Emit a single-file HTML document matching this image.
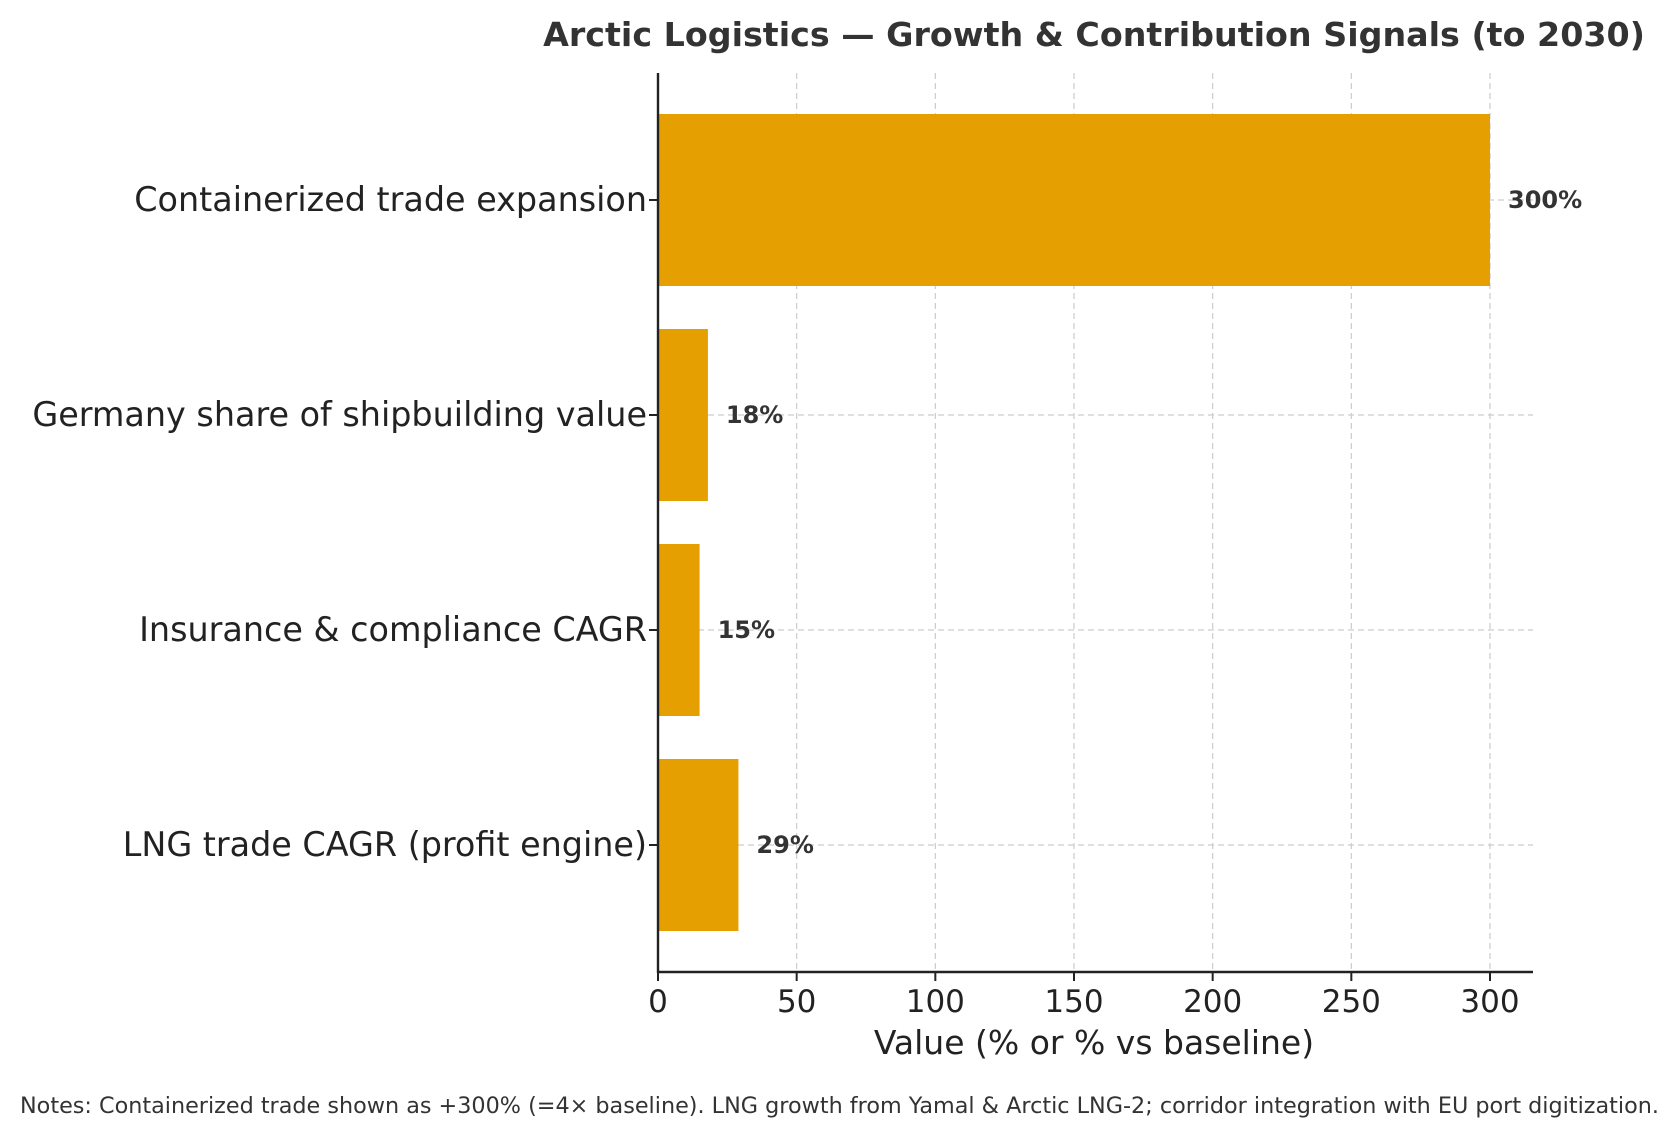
<!DOCTYPE html>
<html><head><meta charset="utf-8"><style>
body{margin:0;background:#fff;}
svg text{font-family:"DejaVu Sans","Liberation Sans",sans-serif;}
</style></head><body>
<svg id="chart" width="1678" height="1135" xmlns="http://www.w3.org/2000/svg">
<rect width="1678" height="1135" fill="#fff"/>
<text x="1094" y="46" text-anchor="middle" font-size="33.3" font-weight="bold" fill="#333">Arctic Logistics — Growth &amp; Contribution Signals (to 2030)</text>
<g id="grid"></g><g id="bars"></g><g id="axes"></g>
<text x="1094" y="1054" text-anchor="middle" font-size="33" fill="#222">Value (% or % vs baseline)</text>
<text x="20" y="1113" font-size="22.3" fill="#333">Notes: Containerized trade shown as +300% (=4× baseline). LNG growth from Yamal &amp; Arctic LNG-2; corridor integration with EU port digitization.</text>
</svg>
<script>
const categories=["Containerized trade expansion","Germany share of shipbuilding value","Insurance & compliance CAGR","LNG trade CAGR (profit engine)"];
const values=[300,18,15,29];
const valueLabels=["300%","18%","15%","29%"];
const xTicks=[0,50,100,150,200,250,300];
const NS="http://www.w3.org/2000/svg";
const L=658,R=1533,T=73,B=972;
const x=v=>L+v*(832/300);
const band=215, y0=T+19.5;
const yc=i=>y0+band*i+band/2;
function mk(tag,attrs,parent){const e=document.createElementNS(NS,tag);for(const k in attrs)e.setAttribute(k,attrs[k]);document.getElementById(parent).appendChild(e);return e;}
xTicks.forEach((t,i)=>{
  const g=mk('line',{x1:x(t),x2:x(t),y1:T,y2:B,stroke:'#ccc','stroke-dasharray':'6,4','stroke-width':1.2},'grid');
  
  
  const tk=mk('line',{x1:x(t),x2:x(t),y1:B,y2:B+9,stroke:'#222','stroke-width':2},'axes');
  
  
  const tl=mk('text',{x:x(t),y:1012,'text-anchor':'middle','font-size':31,fill:'#222'},'axes');
  tl.textContent=t;
  
  
});
categories.forEach((c,i)=>{
  const g=mk('line',{x1:L,x2:R,y1:yc(i),y2:yc(i),stroke:'#ccc','stroke-dasharray':'6,4','stroke-width':1.2},'grid');
  
  
  const h=band*0.8;
  const b=mk('rect',{x:L,y:yc(i)-h/2,width:x(values[i])-L,height:h,fill:'#E69F00'},'bars');
  
  
  const v=mk('text',{x:x(values[i])+18,y:yc(i)+8,'font-size':24,'font-weight':'bold',fill:'#333'},'bars');
  v.textContent=valueLabels[i];
  
  
  const tk=mk('line',{x1:L-9,x2:L,y1:yc(i),y2:yc(i),stroke:'#222','stroke-width':2},'axes');
  
  
  const tl=mk('text',{x:647,y:yc(i)+11,'text-anchor':'end','font-size':33.4,fill:'#222'},'axes');
  tl.textContent=c;
  
  
});
const ax=mk('line',{x1:L,x2:L,y1:T,y2:B+1,stroke:'#222','stroke-width':2.4},'axes');


const bx=mk('line',{x1:L-1,x2:R,y1:B,y2:B,stroke:'#222','stroke-width':2.4},'axes');


</script>
</body></html>
